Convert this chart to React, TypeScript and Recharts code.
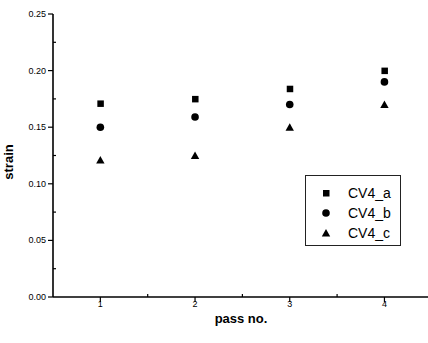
import { ScatterChart, Scatter, XAxis, YAxis } from 'recharts';

const passes = [1, 2, 3, 4];
const cv4a = [0.171, 0.175, 0.184, 0.2];
const cv4b = [0.15, 0.159, 0.17, 0.19];
const cv4c = [0.121, 0.125, 0.15, 0.17];

const xTicks = [1, 1.5, 2, 2.5, 3, 3.5, 4];
const yTicks = [0, 0.025, 0.05, 0.075, 0.1, 0.125, 0.15, 0.175, 0.2, 0.225, 0.25];

const FONT = '"Liberation Sans", Arial, sans-serif';

const series = [
  { name: 'CV4_a', values: cv4a, shape: 'square' },
  { name: 'CV4_b', values: cv4b, shape: 'circle' },
  { name: 'CV4_c', values: cv4c, shape: 'triangle' },
];

function Marker({ cx, cy, kind }: { cx: number; cy: number; kind: string }) {
  if (kind === 'square') return <rect x={cx - 3} y={cy - 3} width={6.5} height={6.5} fill="#000" />;
  if (kind === 'circle') return <circle cx={cx} cy={cy} r={3.8} fill="#000" />;
  return <polygon points={`${cx - 4.2},${cy + 3.5} ${cx + 4.2},${cy + 3.5} ${cx},${cy - 4}`} fill="#000" />;
}

function YTick(props: any) {
  const { x, y, payload } = props;
  const ax = x + 7;
  const r = Math.round(payload.value * 1000) % 50;
  const major = r === 0;
  return (
    <g>
      <line x1={major ? ax - 5 : ax} x2={major ? ax : ax + 3} y1={y} y2={y} stroke="#000" strokeWidth={1.2} />
      {major && (
        <text x={x} y={y} dy={3} textAnchor="end" fontSize={9} fontFamily={FONT} fill="#000">
          {payload.value.toFixed(2)}
        </text>
      )}
    </g>
  );
}

function XTick(props: any) {
  const { x, y, payload } = props;
  const ay = y - 7;
  const major = Number.isInteger(payload.value);
  return (
    <g>
      <line x1={x} x2={x} y1={major ? ay : ay - 3} y2={major ? ay + 5 : ay} stroke="#000" strokeWidth={1.2} />
      {major && (
        <text x={x} y={y} dy={3} textAnchor="middle" fontSize={9} fontFamily={FONT} fill="#000">
          {payload.value}
        </text>
      )}
    </g>
  );
}

function LegendBox() {
  return (
    <div
      style={{
        position: 'absolute',
        left: 305,
        top: 175,
        border: '1px solid #222',
        background: '#fff',
        width: 96,
        height: 71,
        boxSizing: 'border-box',
        paddingTop: 7,
        fontFamily: FONT,
        fontSize: 14,
        color: '#000',
      }}
    >
      {series.map((s) => (
        <div key={s.name} style={{ display: 'flex', alignItems: 'center', height: 20 }}>
          <svg width={42} height={20}>
            <Marker cx={20} cy={10} kind={s.shape} />
          </svg>
          <span>{s.name}</span>
        </div>
      ))}
    </div>
  );
}

export default function App() {
  return (
    <div style={{ position: 'absolute', left: 0, top: 0, width: 428, height: 343, background: '#fff' }}>
      <ScatterChart width={428} height={343} margin={{ top: 14, right: 0, bottom: 20, left: 0 }}>
        <XAxis
          type="number"
          dataKey="x"
          domain={[0.5, 4.46]}
          ticks={xTicks}
          interval={0}
          tickLine={false}
          tickSize={5}
          tickMargin={2}
          height={26}
          axisLine={{ stroke: '#000', strokeWidth: 1.6 }}
          tick={<XTick />}
          allowDataOverflow
        />
        <YAxis
          type="number"
          dataKey="y"
          domain={[0, 0.25]}
          ticks={yTicks}
          interval={0}
          tickLine={false}
          tickSize={5}
          tickMargin={2}
          width={53}
          axisLine={{ stroke: '#000', strokeWidth: 1.6 }}
          tick={<YTick />}
          allowDataOverflow
        />
        {series.map((s) => (
          <Scatter
            key={s.name}
            name={s.name}
            data={passes.map((p, i) => ({ x: p, y: s.values[i] }))}
            isAnimationActive={false}
            shape={(p: any) => <Marker cx={p.cx} cy={p.cy} kind={s.shape} />}
          />
        ))}
        <text x={13} y={162} transform="rotate(-90 13 162)" textAnchor="middle" fontSize={13} fontWeight="bold" fontFamily={FONT} fill="#000">
          strain
        </text>
        <text x={241} y={323} textAnchor="middle" fontSize={13} fontWeight="bold" fontFamily={FONT} fill="#000">
          pass no.
        </text>
      </ScatterChart>
      <LegendBox />
    </div>
  );
}
